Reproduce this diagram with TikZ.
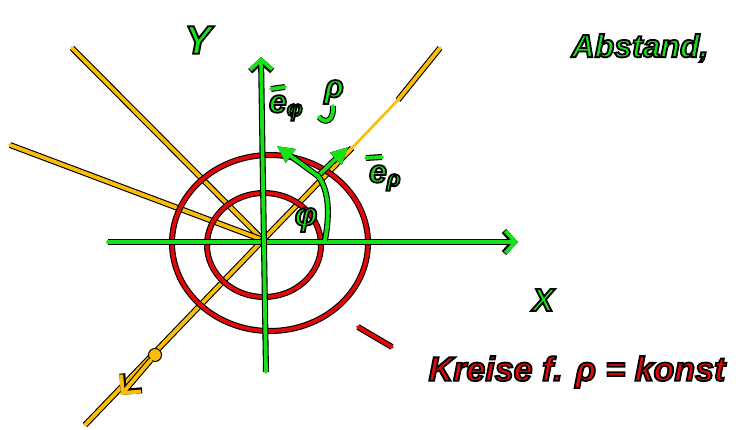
\documentclass[tikz,border=0pt]{standalone}
\usepackage{fontspec}
\setmainfont{Liberation Sans}
\usetikzlibrary{arrows.meta}
\definecolor{penGreen}{RGB}{25,225,25}
\definecolor{penOrange}{RGB}{250,190,10}
\definecolor{penRed}{RGB}{225,10,10}
% fill the glyphs in the text colour and stroke them black
\newcommand\outlined[1]{\special{pdf:code 0 G 1.8 w 2 Tr}#1\special{pdf:code 0 Tr}}

\begin{document}
\begin{tikzpicture}[x=1pt,y=-1pt,
                    pen/.style={preaction={draw=black,line width=6pt},
                                draw=#1,line width=3.8pt,
                                line cap=round,line join=round},
                    barb/.style={-{Straight Barb[length=10pt,width=22pt]}},
                    vecarrow/.style={-{Triangle[length=17pt,width=16pt]}},
                    hand/.style={text=#1,inner sep=0pt,
                                 font=\bfseries\itshape\fontsize{32}{34}\selectfont}]
  \useasboundingbox (0,0) rectangle (743,430);
  \coordinate (O) at (263,240);

  % rays through the origin
  \coordinate (rhoA) at (352,148);
  \coordinate (rhoB) at (398,100);
  \coordinate (rayRho) at (440,48);
  \coordinate (rayA) at (72,48);
  \coordinate (rayB) at (10,145);
  \coordinate (rayC) at (85,425);
  \draw[pen=penOrange] (O) -- (rhoA);
  \draw[penOrange,line width=2.6pt,line cap=round] (rhoA) -- (rhoB);
  \draw[pen=penOrange] (rhoB) -- (rayRho);
  \draw[pen=penOrange] (O) -- (rayA);
  \draw[pen=penOrange] (O) -- (rayB);
  \draw[pen=penOrange] (O) -- (rayC);
  \node[circle,fill=penOrange,draw=black,line width=1pt,
        minimum size=13pt,inner sep=0pt] (dot) at (155,355) {};
  \coordinate (tip) at (121,395);
  \draw[pen=penOrange,-{Straight Barb[length=13pt,width=26pt]}] (dot) -- (tip);

  % circles rho = const
  \draw[pen=penRed] (264,245) ellipse [x radius=57,y radius=52];
  \draw[pen=penRed] (270,243) ellipse [x radius=98,y radius=88];
  \coordinate (dashA) at (358,327);
  \coordinate (dashB) at (392,347);
  \draw[pen=penRed] (dashA) -- (dashB);

  % axes
  \coordinate (xstart) at (108,242);
  \coordinate (xend) at (518,242);
  \coordinate (ystart) at (266,372);
  \coordinate (yend) at (261,57);
  \draw[pen=penGreen,barb] (xstart) -- (xend);
  \draw[pen=penGreen,barb] (ystart) -- (yend);

  % unit vectors
  \coordinate (P) at (318,176);
  \coordinate (eRho) at (348,147);
  \coordinate (ePhi) at (277,146);
  \draw[pen=penGreen,vecarrow] (P) -- (eRho);
  \draw[pen=penGreen,vecarrow] (P) -- (ePhi);
  \coordinate (arcStart) at (325,240);
  \draw[pen=penGreen] (arcStart) .. controls (330,214) and (329,190) .. (P);
  \coordinate (hookA) at (319,117);
  \coordinate (hookB) at (333,106);
  \draw[pen=penGreen] (hookA) .. controls (326,125) and (334,120) .. (hookB);

  % labels
  \node[hand=penGreen,font=\bfseries\itshape\fontsize{40}{42}\selectfont] (ylabel) at (198,40) {\outlined{Y}};
  \node[hand=penGreen] (xlabel) at (543,300) {\outlined{X}};
  \node[hand=penGreen] (abstand) at (640,48) {\outlined{Abstand,}};
  \node[hand=penGreen] (lblePhi) at (286,108) {\outlined{e\textsubscript{φ}}};
  \node[hand=penGreen] (lbleRho) at (385,178) {\outlined{e\textsubscript{ρ}}};
  \coordinate (barPhiA) at (271,89);
  \coordinate (barPhiB) at (285,87);
  \draw[pen=penGreen] (barPhiA) -- (barPhiB);
  \coordinate (barRhoA) at (366,158);
  \coordinate (barRhoB) at (382,157);
  \draw[pen=penGreen] (barRhoA) -- (barRhoB);
  \node[hand=penGreen] (lblRho) at (334,92) {\outlined{ρ}};
  \node[hand=penGreen] (lblPhi) at (306,220) {\outlined{φ}};
  \node[hand=penRed,font=\bfseries\itshape\fontsize{34}{36}\selectfont] (kreise) at (577,372) {\outlined{Kreise f. ρ = konst}};
\end{tikzpicture}
\end{document}
